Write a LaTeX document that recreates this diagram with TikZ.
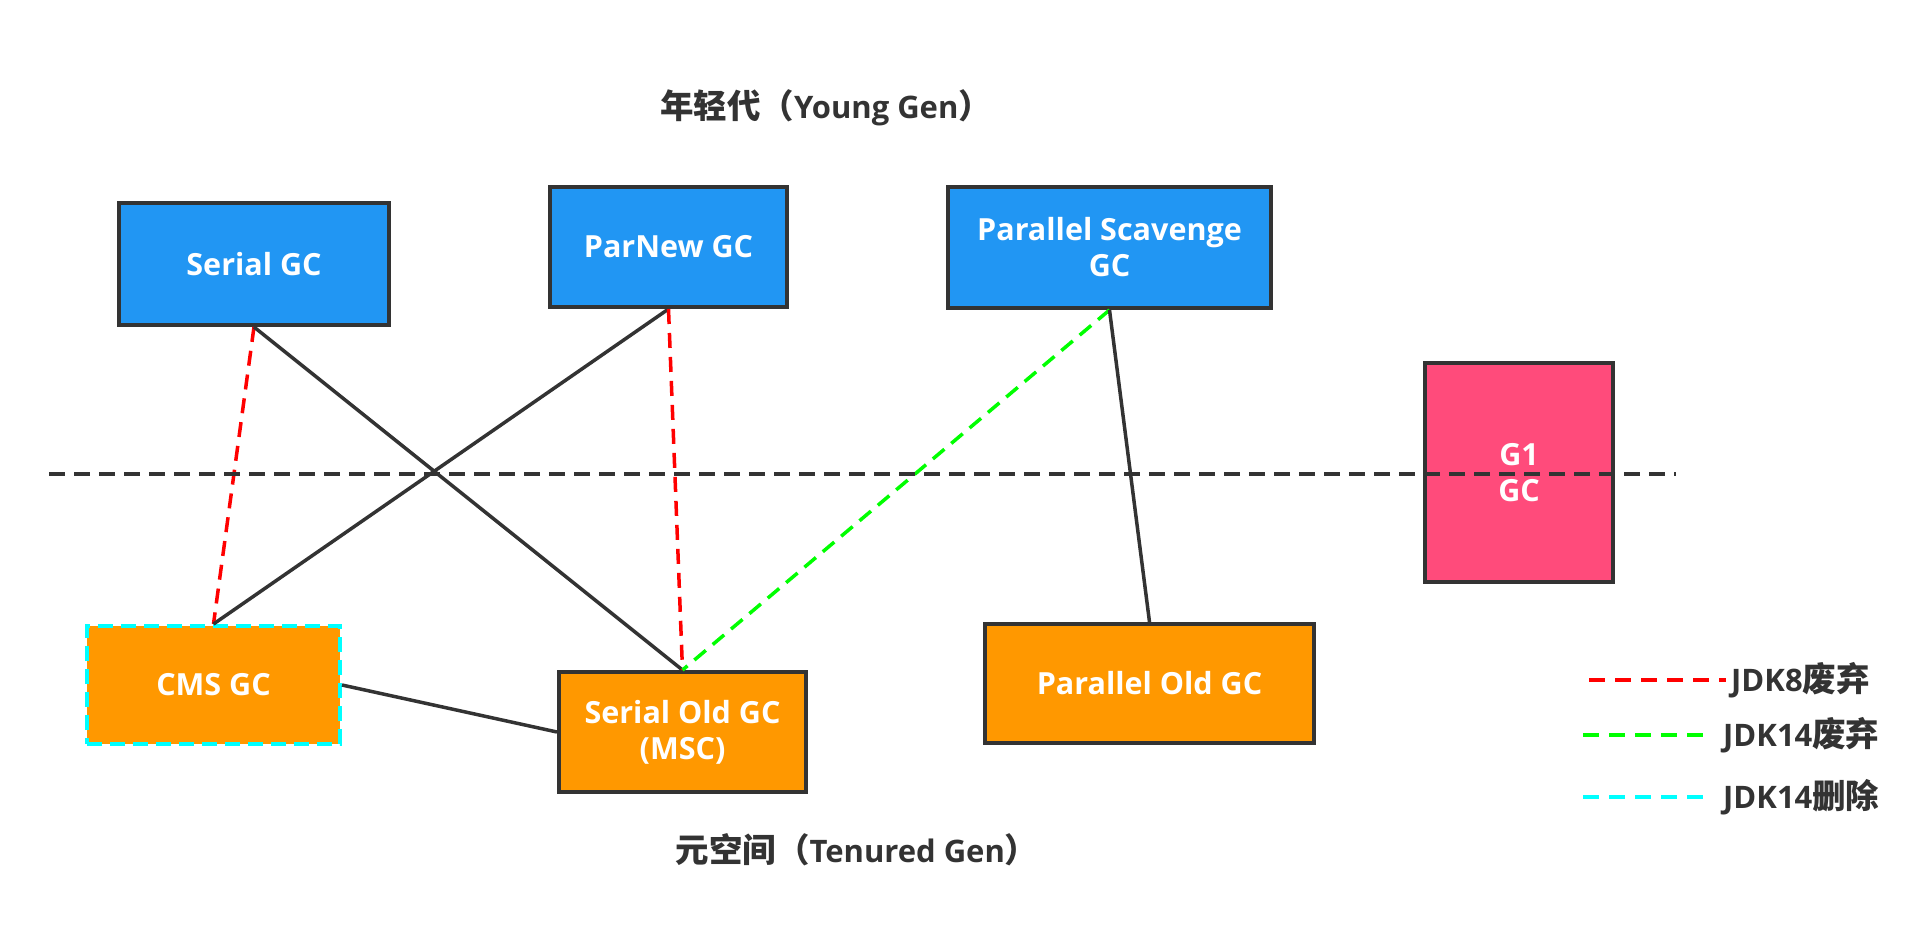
\documentclass[tikz,border=0pt]{standalone}
\usepackage{fontspec}
\setmainfont{Open Sans}
\newfontfamily\cjk{Noto Sans CJK SC}[Scale=1.08]
\definecolor{gcblue}{HTML}{2196F3}
\definecolor{gcorange}{HTML}{FF9800}
\definecolor{gcpink}{HTML}{FF4B7B}
\definecolor{ink}{HTML}{333333}
\definecolor{jdkred}{HTML}{FF0000}
\definecolor{jdkgreen}{HTML}{00FF00}
\definecolor{jdkcyan}{HTML}{00FFFF}
\begin{document}
\begin{tikzpicture}[x=1pt,y=-1pt,
  gcbox/.style={draw=ink, line width=4pt, text=white, align=center, inner sep=0pt,
    font=\bfseries\fontsize{30.5}{36}\selectfont},
  young/.style={gcbox, fill=gcblue},
  old/.style={gcbox, fill=gcorange},
  label/.style={text=ink, font=\bfseries\fontsize{31}{36}\selectfont, inner sep=0pt},
  legendtext/.style={text=ink, font=\bfseries\fontsize{31}{36}\selectfont, inner sep=0pt, anchor=west},
  link/.style={draw=ink, line width=3.5pt},
  dep8/.style={draw=jdkred, line width=3.5pt, dash pattern=on 15pt off 9pt},
  dep14/.style={draw=jdkgreen, line width=3.5pt, dash pattern=on 15pt off 9pt},
  divider/.style={draw=ink, line width=4pt, dash pattern=on 16pt off 9pt}]
\useasboundingbox (0,0) rectangle (1932,951);

% titles
\node[label] (ytitle) at (826,108) {{\cjk 年轻代（}Young Gen{\cjk ）}};
\node[label] (otitle) at (857,850) {{\cjk 元空间（}Tenured Gen{\cjk ）}};

% young generation
\node[young, minimum width=270pt, minimum height=122pt] (serial) at (254,264) {Serial GC};
\node[young, minimum width=237pt, minimum height=120pt] (parnew) at (668.5,247) {ParNew GC};
\node[young, minimum width=323pt, minimum height=121pt] (ps) at (1109.5,247.5) {Parallel Scavenge\\GC};

% G1
\node[gcbox, fill=gcpink, minimum width=188pt, minimum height=219pt] (g1) at (1519,472.5) {G1\\GC};

% old generation
\node[old, draw=jdkcyan, dash pattern=on 15pt off 8pt, minimum width=253pt, minimum height=118pt] (cms) at (213.5,685) {CMS GC};
\node[old, minimum width=247pt, minimum height=120pt] (serialold) at (682.5,732) {Serial Old GC\\(MSC)};
\node[old, minimum width=329pt, minimum height=119pt] (parold) at (1149.5,683.5) {Parallel Old GC};

% connectors
\draw[dep8] (serial.south) -- (cms.north);
\draw[link] (serial.south) -- (serialold.north);
\draw[link] (parnew.south) -- (cms.north);
\draw[dep8] (parnew.south) -- (serialold.north);
\draw[dep14] (ps.south) -- (serialold.north);
\draw[link] (ps.south) -- (parold.north);
\draw[link] (cms.east) -- (serialold.west);

% divider
\coordinate (divL) at (49,474);
\coordinate (divR) at (1676,474);
\draw[divider] (divL) -- (divR);

% legend
\coordinate (l1a) at (1589,680);
\coordinate (l1b) at (1726,680);
\coordinate (l2a) at (1583,735);
\coordinate (l2b) at (1703,735);
\coordinate (l3a) at (1583,797);
\coordinate (l3b) at (1703,797);
\draw[draw=jdkred, line width=4pt, dash pattern=on 16pt off 10pt] (l1a) -- (l1b);
\draw[draw=jdkgreen, line width=4pt, dash pattern=on 16pt off 10pt] (l2a) -- (l2b);
\draw[draw=jdkcyan, line width=4pt, dash pattern=on 16pt off 10pt] (l3a) -- (l3b);
\node[legendtext] (t1) at (1731,680) {JDK8{\cjk 废弃}};
\node[legendtext] (t2) at (1723,735) {JDK14{\cjk 废弃}};
\node[legendtext] (t3) at (1723,797) {JDK14{\cjk 删除}};
\end{tikzpicture}
\end{document}
